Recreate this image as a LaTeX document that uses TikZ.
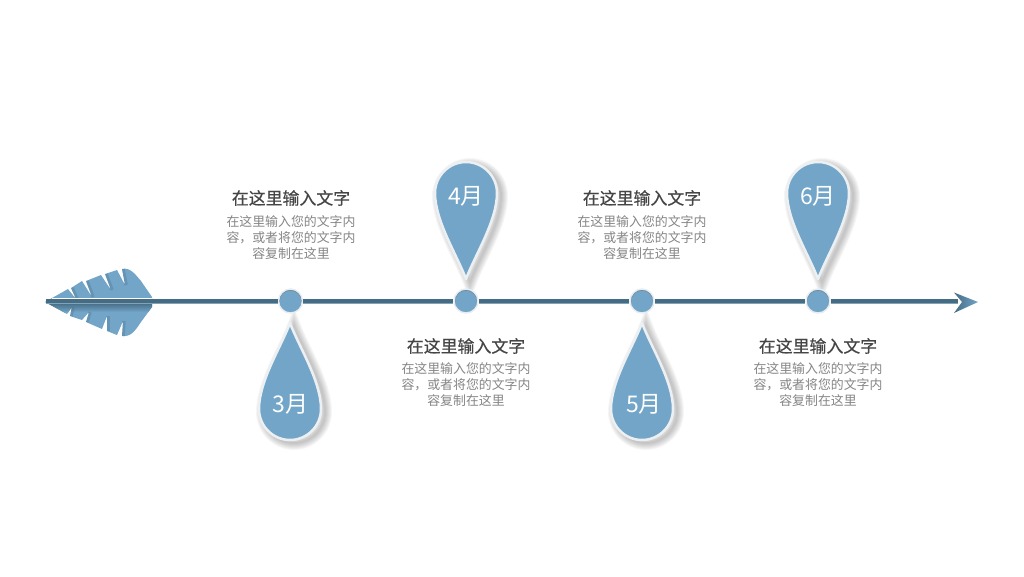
\documentclass[tikz,border=0pt]{standalone}
\usepackage{fontspec}
\setmainfont{Noto Sans CJK SC}
\newfontfamily\titlefont[FakeBold=0.5]{Noto Sans CJK SC}
\usetikzlibrary{shadings}

\definecolor{pinblue}{HTML}{72A5C8}
\definecolor{axisdark}{HTML}{466C84}
\definecolor{axislight}{HTML}{7FA3B8}
\definecolor{titlegray}{HTML}{454545}
\definecolor{bodygray}{HTML}{858585}

\tikzset{
  title/.style={text=titlegray, font=\fontsize{16.9}{20}\titlefont},
  body/.style={text=bodygray, align=center, font=\fontsize{12.9}{16}\selectfont},
  month/.style={text=white, font=\fontsize{23}{26}\selectfont},
  marker/.style={circle, minimum size=24pt, inner sep=0pt, fill=pinblue, draw=white!88!axisdark, line width=1.5pt,
    path picture={\draw[axisdark!80, line width=1.2pt] ([yshift=-.6pt]path picture bounding box.center) circle (11.6);}},
  axis/.style={line width=3.6pt, draw=axisdark, postaction={draw=axislight, line width=1.5pt, transform canvas={yshift=-2.5pt}}},
}

% tip x, tip y, direction of the body (1 down, -1 up)
\newcommand{\droppath}[3]{(#1,#2) .. controls (#1-9,#2+#3*24) and (#1-31,#2+#3*58) .. (#1-31,#2+#3*86)
  .. controls (#1-31,#2+#3*103) and (#1-17,#2+#3*117) .. (#1,#2+#3*117)
  .. controls (#1+17,#2+#3*117) and (#1+31,#2+#3*103) .. (#1+31,#2+#3*86)
  .. controls (#1+31,#2+#3*58) and (#1+9,#2+#3*24) .. (#1,#2) -- cycle}
\newcommand{\drop}[3]{
  \foreach \w in {1,...,7}
    \draw[black, opacity=.035, line width=\w*2pt, shift={(4,3)}] \droppath{#1}{#2}{#3};
  \draw[fill=pinblue, draw=white!90!axisdark, line width=2.5pt, line join=round] \droppath{#1}{#2}{#3};
}
\newcommand{\leafpath}{(45,302) -- (68,289) -- (76,299) -- (71,288) -- (82,281) -- (92,297) -- (86,281)
  -- (101,275) -- (111,290) -- (105,274) -- (117,270) -- (125,285) -- (122,269)
  .. controls (130,267) and (135,274) .. (141,281) -- (152,297) -- (152,307) -- (141,322)
  .. controls (135,331) and (131,337) .. (122,336) -- (123,321) -- (117,335) -- (107,331)
  -- (107,316) -- (102,329) -- (86,322) -- (89,312) -- (82,320) -- (70,316) -- (72,307) -- (67,314) -- cycle}

\begin{document}
\begin{tikzpicture}[x=1pt, y=-1pt, >=latex]
        \useasboundingbox (0,0) rectangle (1024,576);

        % leaf
        \fill[pinblue] \leafpath;
        \begin{scope}
            \clip \leafpath;
            \shade[top color=axisdark, bottom color=pinblue] (46,303) rectangle (153,312);
            \begin{scope}[axisdark, opacity=.3, line width=3.5pt, xshift=1pt]
                \draw (76,299)--(71,288);
                \draw (92,297)--(86,281);
                \draw (111,290)--(105,274);
                \draw (125,285)--(122,269);
                \draw (123,321)--(122,336);
                \draw (107,316)--(107,331);
                \draw (89,312)--(86,322);
                \draw (72,307)--(70,316);
            \end{scope}
        \end{scope}

        % pins
        \drop{290}{323}{1}
        \drop{466}{279}{-1}
        \drop{642}{323}{1}
        \drop{818}{279}{-1}

        \coordinate (tail) at (46,301);
        \coordinate (end) at (958,301);
        \coordinate (glintl) at (52,298.8);
        \coordinate (glintr) at (152,298.8);

        \node (m3) at (290.5,301) [marker] {};
        \node (m4) at (466,301) [marker] {};
        \node (m5) at (642,301) [marker] {};
        \node (m6) at (818,301) [marker] {};

        \draw[axis] (tail)--(m3);
        \draw[axis] (m3)--(m4);
        \draw[axis] (m4)--(m5);
        \draw[axis] (m5)--(m6);
        \draw[axis] (m6)--(end);
        \draw[white, line width=.8pt] (glintl)--(glintr);
        \shade[left color=axisdark, right color=pinblue] (954,292.5)--(978,302)--(954,313)--(962,302)--cycle;

        \node (d3) at (290.5,404) [month] {3月};
        \node (d4) at (466,196) [month] {4月};
        \node (d5) at (644,404) [month] {5月};
        \node (d6) at (818,196) [month] {6月};

        \node (t3) at (291,198) [title] {在这里输入文字};
        \node (b3) at (291,238) [body] {在这里输入您的文字内\\容，或者将您的文字内\\容复制在这里};
        \node (t4) at (466,346) [title] {在这里输入文字};
        \node (b4) at (466,385) [body] {在这里输入您的文字内\\容，或者将您的文字内\\容复制在这里};
        \node (t5) at (642,198) [title] {在这里输入文字};
        \node (b5) at (642,238) [body] {在这里输入您的文字内\\容，或者将您的文字内\\容复制在这里};
        \node (t6) at (818,346) [title] {在这里输入文字};
        \node (b6) at (818,385) [body] {在这里输入您的文字内\\容，或者将您的文字内\\容复制在这里};

    \end{tikzpicture}
\end{document}
